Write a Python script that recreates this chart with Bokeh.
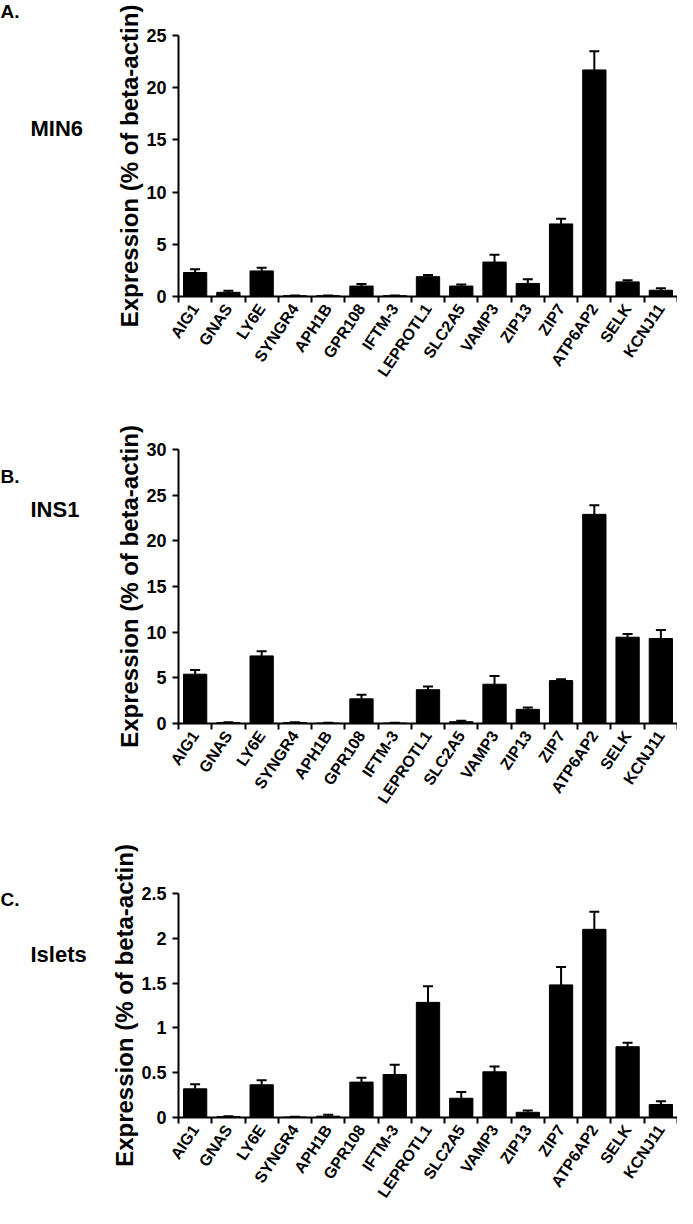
from bokeh.plotting import figure
from bokeh.models import (ColumnDataSource, Range1d, FixedTicker, Whisker, TeeHead, Label)
from bokeh.layouts import column, row
from bokeh.embed import file_html
from bokeh.resources import INLINE

genes = ["AIG1", "GNAS", "LY6E", "SYNGR4", "APH1B", "GPR108", "IFTM-3", "LEPROTL1",
         "SLC2A5", "VAMP3", "ZIP13", "ZIP7", "ATP6AP2", "SELK", "KCNJ11"]

min6_mean = [2.3, 0.4, 2.45, 0.08, 0.08, 1.0, 0.08, 1.9, 1.0, 3.3, 1.25, 6.95, 21.7, 1.4, 0.6]
min6_err = [0.3, 0.15, 0.3, 0.02, 0.02, 0.2, 0.02, 0.15, 0.15, 0.7, 0.4, 0.5, 1.8, 0.15, 0.2]

ins1_mean = [5.4, 0.1, 7.4, 0.1, 0.05, 2.7, 0.05, 3.7, 0.2, 4.3, 1.55, 4.7, 22.9, 9.45, 9.3]
ins1_err = [0.45, 0.03, 0.5, 0.03, 0.02, 0.45, 0.02, 0.35, 0.1, 0.9, 0.2, 0.15, 1.0, 0.35, 0.95]

islets_mean = [0.32, 0.01, 0.365, 0.005, 0.015, 0.395, 0.48, 1.285, 0.215, 0.51, 0.058,
               1.48, 2.10, 0.79, 0.145]
islets_err = [0.05, 0.005, 0.05, 0.003, 0.015, 0.05, 0.11, 0.18, 0.07, 0.06, 0.02,
              0.2, 0.195, 0.045, 0.035]

yticks_A = [0, 5, 10, 15, 20, 25]
yticks_B = [0, 5, 10, 15, 20, 25, 30]
yticks_C = [0, 0.5, 1, 1.5, 2, 2.5]
yticklabels_C = ["0", "0.5", "1", "1.5", "2", "2.5"]

panel_letters = ["A.", "B.", "C."]
panel_names = ["MIN6", "INS1", "Islets"]

FONT = "Liberation Sans"
YLABEL = "Expression (% of beta-actin)"
LEFT_W = 100
TOTAL_W = 677


def panel(means, errs, yticks, ylabels, height, bl, bt, bb):
    n = len(genes)
    centers = [i + 0.5 for i in range(n)]
    bounds = [float(i) for i in range(n + 1)]
    src = ColumnDataSource(dict(x=centers, mean=means,
                                upper=[m + e for m, e in zip(means, errs)]))
    p = figure(width=TOTAL_W - LEFT_W, height=height, output_backend="svg",
               toolbar_location=None,
               x_range=Range1d(0, n), y_range=Range1d(yticks[0], yticks[-1]),
               min_border_left=bl, min_border_right=0, min_border_top=bt,
               min_border_bottom=bb)
    p.outline_line_color = None
    p.xgrid.visible = False
    p.ygrid.visible = False
    p.background_fill_color = "white"
    p.border_fill_color = "white"

    p.vbar(x="x", top="mean", width=0.7, bottom=0, fill_color="black",
           line_color="black", line_width=1, source=src)
    w = Whisker(base="x", upper="upper", lower="mean", source=src,
                line_color="black", line_width=2,
                upper_head=TeeHead(size=10, line_width=2, line_color="black"),
                lower_head=None)
    p.add_layout(w)

    xa = p.xaxis[0]
    xa.ticker = FixedTicker(ticks=centers, minor_ticks=bounds)
    xa.major_label_overrides = {c: g for c, g in zip(centers, genes)}
    xa.major_label_orientation = 0.98
    xa.major_tick_out = 0
    xa.major_tick_in = 0
    xa.minor_tick_out = 6
    xa.minor_tick_in = 0
    xa.minor_tick_line_width = 2
    xa.minor_tick_line_color = "black"
    xa.axis_line_width = 2
    xa.axis_line_color = "black"
    xa.major_label_text_font = FONT
    xa.major_label_text_font_style = "bold"
    xa.major_label_text_font_size = "16px"
    xa.major_label_text_color = "black"
    xa.major_label_standoff = 3

    ya = p.yaxis[0]
    ya.ticker = FixedTicker(ticks=yticks, minor_ticks=[])
    if ylabels is not None:
        ya.major_label_overrides = {t: l for t, l in zip(yticks, ylabels)}
    ya.major_tick_out = 6
    ya.major_tick_in = 0
    ya.major_tick_line_width = 2
    ya.axis_line_width = 2
    ya.axis_line_color = "black"
    ya.major_label_text_font = FONT
    ya.major_label_text_font_style = "bold"
    ya.major_label_text_font_size = "18px"
    ya.major_label_text_color = "black"
    ya.major_label_standoff = 6
    ya.axis_label = YLABEL
    ya.axis_label_text_font = FONT
    ya.axis_label_text_font_style = "bold"
    ya.axis_label_text_font_size = "24px"
    ya.axis_label_text_color = "black"
    ya.axis_label_standoff = 0
    return p


heights = [390, 424, 394]
pA = panel(min6_mean, min6_err, yticks_A, None, heights[0], 171 - LEFT_W, 35, 94)
pB = panel(ins1_mean, ins1_err, yticks_B, None, heights[1], 174 - LEFT_W, 59, 83)
pC = panel(islets_mean, islets_err, yticks_C, yticklabels_C, heights[2], 178 - LEFT_W, 79, 85)

# left strip holding the panel letters and cell-type names
total_h = sum(heights)
lf = figure(width=LEFT_W, height=total_h, output_backend="svg", toolbar_location=None,
            x_range=Range1d(0, LEFT_W), y_range=Range1d(total_h, 0),
            x_axis_location=None, y_axis_location=None,
            min_border_left=0, min_border_right=0, min_border_top=0, min_border_bottom=0)
lf.outline_line_color = None
lf.xgrid.visible = False
lf.ygrid.visible = False
letter_y = [0, 465, 888]
name_y = [128, 509, 954]
for let, nm, ly, ny in zip(panel_letters, panel_names, letter_y, name_y):
    lf.add_layout(Label(x=0, y=ly, text=let, text_font=FONT, text_font_style="bold",
                        text_font_size="19px", text_baseline="top", text_align="left",
                        text_color="black"))
    lf.add_layout(Label(x=30, y=ny, text=nm, text_font=FONT, text_font_style="bold",
                        text_font_size="22px", text_baseline="middle", text_align="left",
                        text_color="black"))

layout = row(lf, column(pA, pB, pC, spacing=0), spacing=0)
open("out.html", "w").write(file_html(layout, INLINE))
